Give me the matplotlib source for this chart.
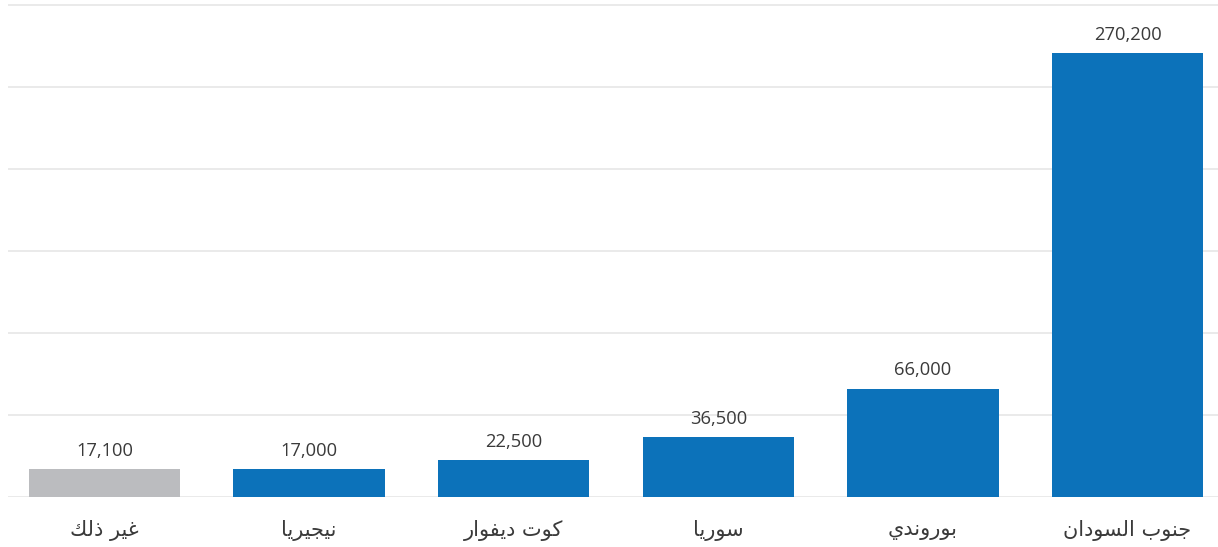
import matplotlib
matplotlib.use('Agg')
from matplotlib import pyplot as plt
import numpy as np

# data (right to left in the picture -> listed left to right here)
labels = ['غير ذلك', 'نيجيريا', 'كوت ديفوار', 'سوريا', 'بوروندي', 'جنوب السودان']
values = [17100, 17000, 22500, 36500, 66000, 270200]
colors = ['#bbbcbf', '#0c72ba', '#0c72ba', '#0c72ba', '#0c72ba', '#0c72ba']

# arabic presentation forms: isolated, final, initial, medial
forms = {
    'ا': ('\uFE8D', '\uFE8E', None, None),
    'ب': ('\uFE8F', '\uFE90', '\uFE91', '\uFE92'),
    'ت': ('\uFE95', '\uFE96', '\uFE97', '\uFE98'),
    'ج': ('\uFE9D', '\uFE9E', '\uFE9F', '\uFEA0'),
    'د': ('\uFEA9', '\uFEAA', None, None),
    'ذ': ('\uFEAB', '\uFEAC', None, None),
    'ر': ('\uFEAD', '\uFEAE', None, None),
    'س': ('\uFEB1', '\uFEB2', '\uFEB3', '\uFEB4'),
    'غ': ('\uFECD', '\uFECE', '\uFECF', '\uFED0'),
    'ف': ('\uFED1', '\uFED2', '\uFED3', '\uFED4'),
    'ك': ('\uFED9', '\uFEDA', '\uFEDB', '\uFEDC'),
    'ل': ('\uFEDD', '\uFEDE', '\uFEDF', '\uFEE0'),
    'ن': ('\uFEE5', '\uFEE6', '\uFEE7', '\uFEE8'),
    'و': ('\uFEED', '\uFEEE', None, None),
    'ي': ('\uFEF1', '\uFEF2', '\uFEF3', '\uFEF4'),
}


def dual(c):
    return c in forms and forms[c][2] is not None


def shape(s):
    out = []
    for i, c in enumerate(s):
        if c not in forms:
            out.append(c)
            continue
        prev = s[i - 1] if i > 0 else ''
        nxt = s[i + 1] if i < len(s) - 1 else ''
        j_prev = dual(prev)
        j_next = dual(c) and nxt in forms
        if j_prev and j_next:
            out.append(forms[c][3])
        elif j_prev:
            out.append(forms[c][1])
        elif j_next:
            out.append(forms[c][2])
        else:
            out.append(forms[c][0])
    return ''.join(out)[::-1]


plt.rcParams['font.family'] = ['Open Sans', 'DejaVu Sans']

fig = plt.figure(figsize=(12.18, 5.47), dpi=100)
ax = fig.add_axes([8 / 1218, 50 / 547, 1210 / 1218, 496 / 547])

x = np.arange(len(values))
ax.bar(x, values, width=0.74, color=colors, zorder=2)

ax.set_xlim(-0.4716, 5.442)
ax.set_ylim(0, 300000 * 496 / 492.5)
ax.set_yticks(np.arange(0, 300001, 50000))
ax.yaxis.grid(True, color='#e6e6e6', linewidth=1.2, zorder=0)
ax.set_axisbelow(True)
for sp in ax.spines.values():
    sp.set_visible(False)
ax.tick_params(left=False, labelleft=False, bottom=False, labelbottom=False)

for i, v in enumerate(values):
    ax.annotate('{:,}'.format(v), xy=(x[i], v), xytext=(0, 9.5), textcoords='offset points',
                ha='center', va='baseline', fontsize=13.2, color='#3a3a3a', zorder=3)
    ax.annotate(shape(labels[i]), xy=(x[i], 0), xytext=(0, -24), textcoords='offset points',
                ha='center', va='center', fontsize=15, color='#3a3a3a',
                family=['DejaVu Sans'])

fig.savefig('out.png', dpi=100)
